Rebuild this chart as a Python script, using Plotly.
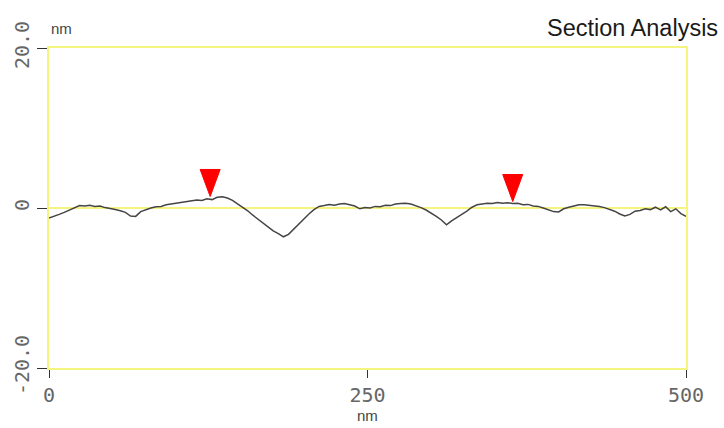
import plotly.graph_objects as go

# Section profile (nm)
pos_nm = list(range(0, 501, 4))
height_nm = [
    -1.25, -1.05, -0.8, -0.55, -0.25, 0.05, 0.3, 0.25, 0.35, 0.2,
    0.25, 0.05, -0.05, -0.2, -0.35, -0.55, -1.0, -1.05, -0.45, -0.2,
    0.0, 0.15, 0.2, 0.4, 0.5, 0.6, 0.7, 0.85, 0.9, 1.0,
    0.95, 1.15, 1.05, 1.35, 1.4, 1.25, 0.95, 0.55, 0.1, -0.35,
    -0.9, -1.4, -1.9, -2.4, -2.85, -3.2, -3.6, -3.3, -2.65, -2.05,
    -1.4, -0.75, -0.2, 0.2, 0.3, 0.45, 0.35, 0.5, 0.55, 0.4,
    0.25, -0.1, 0.05, 0.0, 0.2, 0.15, 0.35, 0.3, 0.5, 0.55,
    0.6, 0.5, 0.3, 0.05, -0.25, -0.6, -1.05, -1.5, -2.1, -1.6,
    -1.15, -0.8, -0.4, 0.1, 0.4, 0.5, 0.6, 0.55, 0.7, 0.6,
    0.65, 0.55, 0.6, 0.4, 0.45, 0.25, 0.2, 0.0, -0.2, -0.45,
    -0.5, -0.1, 0.1, 0.25, 0.4, 0.4, 0.35, 0.25, 0.2, 0.05,
    -0.15, -0.4, -0.75, -1.0, -0.8, -0.4, -0.3, -0.1, -0.2, 0.1,
    -0.25, 0.15, -0.45, -0.1, -0.7, -1.05,
]

# Cursor markers (tip positions)
marker_x = [126.5, 364.0]
marker_y = [1.44, 0.81]

x_ticks = [0, 250, 500]
x_ticktext = ["0", "250", "500"]
y_ticks = [-20, 0, 20]
y_ticktext = ["-20.0", "0", "20.0"]

YELLOW = "#f4f47e"
TICKFONT = dict(family="DejaVu Sans Mono", size=20, color="#666666")

fig = go.Figure()
fig.add_trace(go.Scatter(
    x=pos_nm, y=height_nm, mode="lines",
    line=dict(color="#454545", width=1.5),
    hoverinfo="skip", showlegend=False,
))

shapes = []
for mx, my in zip(marker_x, marker_y):
    shapes.append(dict(
        type="path", xref="x", yref="y",
        xsizemode="pixel", ysizemode="pixel",
        xanchor=mx, yanchor=my,
        path="M-10,27 L10,27 L0,0 Z",
        fillcolor="#ff0000", line=dict(color="#ff0000", width=1),
    ))

fig.update_layout(
    width=724, height=428,
    margin=dict(l=49, r=38, t=48, b=60, autoexpand=False),
    plot_bgcolor="white", paper_bgcolor="white",
    shapes=shapes,
    xaxis=dict(
        range=[0, 500], tickvals=x_ticks, ticktext=x_ticktext,
        showline=True, linecolor=YELLOW, linewidth=2, mirror=True,
        ticks="outside", ticklen=8, tickcolor="#333333", tickwidth=1,
        showgrid=False, zeroline=False, tickfont=TICKFONT, automargin=False,
    ),
    yaxis=dict(
        range=[-20, 20], tickvals=y_ticks, ticktext=y_ticktext,
        tickangle=-90,
        showline=True, linecolor=YELLOW, linewidth=2, mirror=True,
        ticks="outside", ticklen=10, tickcolor="#333333", tickwidth=1,
        showgrid=False, zeroline=True, zerolinecolor=YELLOW, zerolinewidth=2,
        tickfont=TICKFONT, automargin=False,
    ),
    annotations=[
        dict(text="Section Analysis", xref="paper", yref="paper",
             x=1.0534, y=1.0625, xanchor="right", yanchor="middle",
             showarrow=False,
             font=dict(family="Liberation Sans", size=23.5, color="#1a1a1a")),
        dict(text="nm", xref="paper", yref="paper",
             x=0.0204, y=1.0625, xanchor="center", yanchor="middle",
             showarrow=False,
             font=dict(family="Liberation Sans", size=15, color="#444444")),
        dict(text="nm", xref="paper", yref="paper",
             x=0.5, y=-0.147, xanchor="center", yanchor="middle",
             showarrow=False,
             font=dict(family="Liberation Sans", size=15, color="#444444")),
    ],
)

fig.write_html(
    "out.html",
    config={"displayModeBar": False},
    post_script="document.body.style.margin='0px';document.body.style.overflow='hidden';",
)
